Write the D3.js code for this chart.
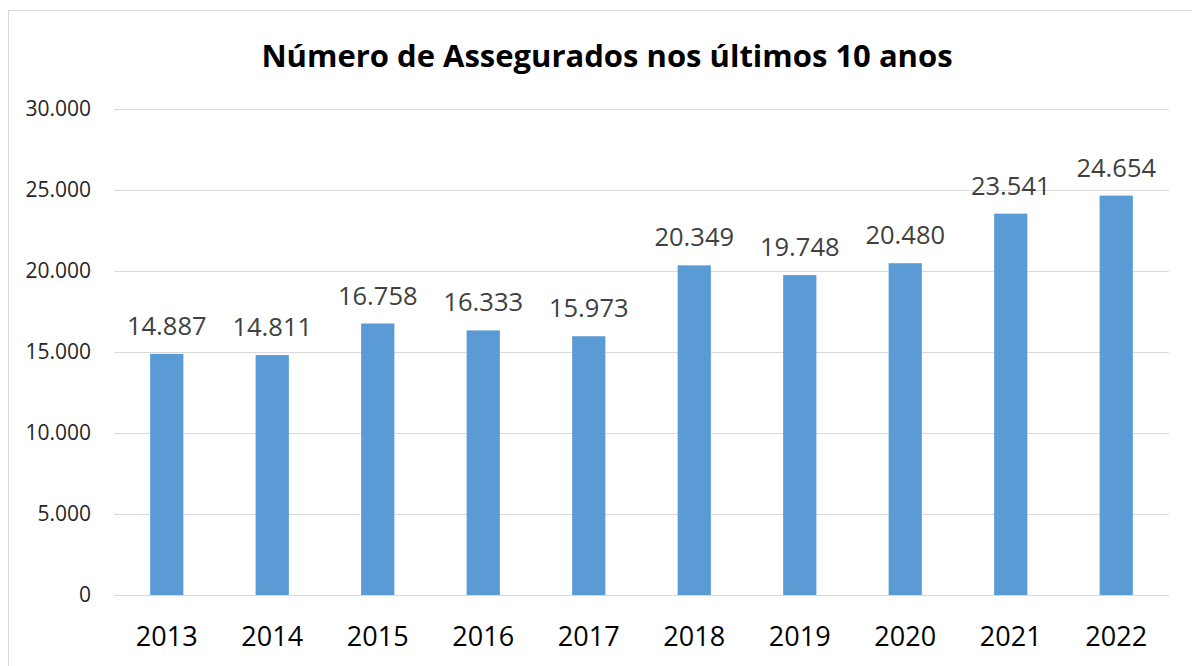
<!DOCTYPE html>
<meta charset="utf-8">
<head>
    <title>Número de Assegurados</title>
    <style>
        body { margin: 0; background: #fff; }
        svg text { font-family: "Open Sans", sans-serif; }
        .grid line { stroke: #D9D9D9; stroke-width: 1px; shape-rendering: crispEdges; }
        .grid path { display: none; }
        .bar { fill: #5B9BD5; }
    </style>
</head>
<body>
<svg width="1192" height="666"></svg>
<script src="https://d3js.org/d3.v7.min.js"></script>
<script>
    var years = ["2013", "2014", "2015", "2016", "2017", "2018", "2019", "2020", "2021", "2022"];
    var insured = [14887, 14811, 16758, 16333, 15973, 20349, 19748, 20480, 23541, 24654];
    var yTicks = [0, 5000, 10000, 15000, 20000, 25000, 30000];

    var svg = d3.select("svg"),
        margin = {top: 109, right: 23, bottom: 71, left: 114},
        width = +svg.attr("width") - margin.left - margin.right,
        height = +svg.attr("height") - margin.top - margin.bottom;

    var pt = d3.formatLocale({decimal: ",", thousands: ".", grouping: [3], currency: ["", ""]});
    var fmt = pt.format(",.0f");

    // outer chart border (right/bottom edges fall outside the window)
    svg.append("rect")
        .attr("x", 8.5).attr("y", 10.5)
        .attr("width", 1300).attr("height", 800)
        .attr("fill", "none").attr("stroke", "#D9D9D9");

    svg.append("text")
        .attr("x", 607).attr("y", 67)
        .attr("text-anchor", "middle")
        .style("font-weight", "bold")
        .style("font-size", "31px")
        .attr("fill", "#000")
        .text("Número de Assegurados nos últimos 10 anos");

    var x = d3.scaleBand().domain(years).range([0, width]);
    var y = d3.scaleLinear().domain([0, 30000]).range([height, 0]);

    var g = svg.append("g")
        .attr("transform", "translate(" + margin.left + "," + margin.top + ")");

    g.append("g")
        .attr("class", "grid")
        .call(d3.axisLeft(y).tickValues(yTicks).tickSize(-width).tickFormat(""));

    g.selectAll(".ylab")
        .data(yTicks)
        .enter().append("text")
        .attr("class", "ylab")
        .attr("x", -23)
        .attr("y", function(d) { return y(d) + 7; })
        .attr("text-anchor", "end")
        .style("font-size", "21px")
        .attr("fill", "#262626")
        .text(function(d) { return fmt(d); });

    var bw = x.bandwidth() * 0.315;
    var data = years.map(function(d, i) { return {year: d, v: insured[i]}; });

    g.selectAll(".bar")
        .data(data)
        .enter().append("rect")
        .attr("class", "bar")
        .attr("x", function(d) { return x(d.year) + (x.bandwidth() - bw) / 2; })
        .attr("width", bw)
        .attr("y", function(d) { return y(d.v); })
        .attr("height", function(d) { return height - y(d.v); });

    g.selectAll(".vlab")
        .data(data)
        .enter().append("text")
        .attr("class", "vlab")
        .attr("x", function(d) { return x(d.year) + x.bandwidth() / 2; })
        .attr("y", function(d) { return y(d.v) - 19; })
        .attr("text-anchor", "middle")
        .style("font-size", "25.5px")
        .attr("fill", "#404040")
        .text(function(d) { return fmt(d.v); });

    g.selectAll(".xlab")
        .data(years)
        .enter().append("text")
        .attr("class", "xlab")
        .attr("x", function(d) { return x(d) + x.bandwidth() / 2; })
        .attr("y", height + 51)
        .attr("text-anchor", "middle")
        .style("font-size", "27px")
        .attr("fill", "#000")
        .text(function(d) { return d; });
</script>
</body>
